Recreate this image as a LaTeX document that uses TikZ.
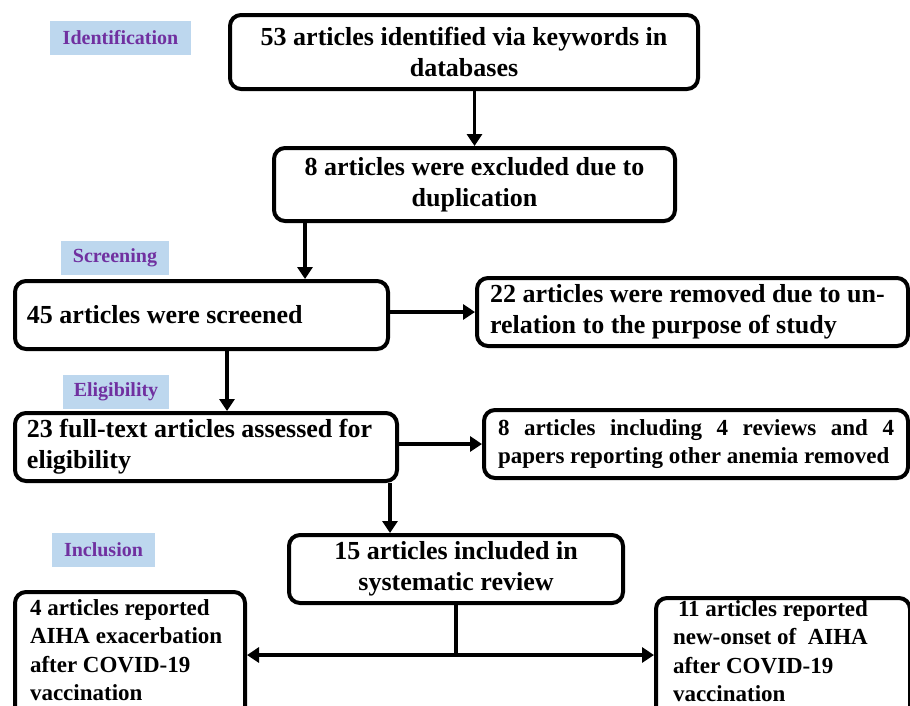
\documentclass[tikz,border=0pt]{standalone}
\usepackage{fontspec}
\setmainfont{Liberation Serif}
\usetikzlibrary{arrows.meta}

\definecolor{stagefill}{RGB}{189,215,238}
\definecolor{stagetext}{RGB}{112,48,160}
\tikzset{
	flowbox/.style={draw, line width=4pt, rounded corners=11pt, inner sep=0pt,
		font=\bfseries\fontsize{26}{31}\selectfont},
	smallbox/.style={flowbox, font=\bfseries\fontsize{23}{28.3}\selectfont},
	stage/.style={fill=stagefill, text=stagetext, minimum height=34pt, inner sep=0pt,
		font=\bfseries\fontsize{20}{24}\selectfont},
	flowarrow/.style={line width=3.5pt, -{Triangle[length=12pt,width=15pt]}}
}

\begin{document}
\begin{tikzpicture}[x=1pt, y=-1pt]
	\useasboundingbox (0,0) rectangle (910,705);
	\begin{scope}[every node/.append style={stage}]
		\node[minimum width=141pt] (ident) at (120.5,38) {Identification};
		\node[minimum width=108pt] (screen) at (115,258) {Screening};
		\node[minimum width=106pt] (elig) at (116,391.5) {Eligibility};
		\node[minimum width=103pt] (incl) at (103.5,550) {Inclusion};
	\end{scope}
	\node[flowbox, minimum width=468pt, minimum height=74pt, text width=440pt, align=flush center]
		(found) at (464,52) {53 articles identified via keywords in\\databases};
	\node[flowbox, minimum width=401pt, minimum height=73pt, text width=380pt, align=flush center]
		(dupl) at (474.5,184.5) {8 articles were excluded due to\\duplication};
	\node[flowbox, minimum width=373pt, minimum height=68pt, text width=349pt, align=flush left]
		(screened) at (201.5,315) {45 articles were screened};
	\node[flowbox, minimum width=431pt, minimum height=68pt, text width=405pt, align=flush left]
		(unrel) at (692.5,312) {22 articles were removed due to un-\\relation to the purpose of study};
	\node[flowbox, minimum width=382pt, minimum height=68pt, text width=358pt, align=flush left]
		(fulltext) at (206,447) {23 full-text articles assessed for\\eligibility};
	\node[smallbox, minimum width=424pt, minimum height=68pt, text width=396pt, align=flush left]
		(other) at (696,444) {8\hfill articles\hfill including\hfill 4\hfill reviews\hfill and\hfill 4\\papers reporting other anemia removed};
	\node[flowbox, minimum width=334pt, minimum height=68pt, text width=310pt, align=flush center]
		(review) at (456,569) {15 articles included in\\systematic review};
	\node[smallbox, anchor=north west, inner xsep=15pt, inner ysep=7.5pt, text width=200pt,
		text depth=112pt, align=flush left]
		(exac) at (13,590) {4 articles reported\\AIHA exacerbation\\after COVID-19\\vaccination};
	\node[smallbox, anchor=north west, inner xsep=17pt, inner ysep=2.5pt, text width=220pt,
		text depth=112pt, align=flush left]
		(onset) at (654,596) {\hspace*{5pt}11 articles reported\\new-onset of\ \ AIHA\\after COVID-19\\vaccination};
	\coordinate (split) at (456,655);

	\draw[flowarrow] (found.south -| dupl.north) -- (dupl.north);
	\draw[flowarrow] ([xshift=33pt]dupl.south west) -- ([xshift=33pt]dupl.south west |- screened.north);
	\draw[flowarrow] (screened.east |- unrel.west) -- (unrel.west);
	\draw[flowarrow] ([xshift=214pt]screened.south west) -- ([xshift=214pt]screened.south west |- fulltext.north);
	\draw[flowarrow] (fulltext.east |- other.west) -- (other.west);
	\draw[flowarrow] ([xshift=-9pt]fulltext.south east) -- ([xshift=-9pt]fulltext.south east |- review.north);
	\draw[line width=3.5pt] (review.south) -- (split);
	\draw[flowarrow] (split) -- (split -| exac.east);
	\draw[flowarrow] (split) -- (split -| onset.west);
\end{tikzpicture}
\end{document}
